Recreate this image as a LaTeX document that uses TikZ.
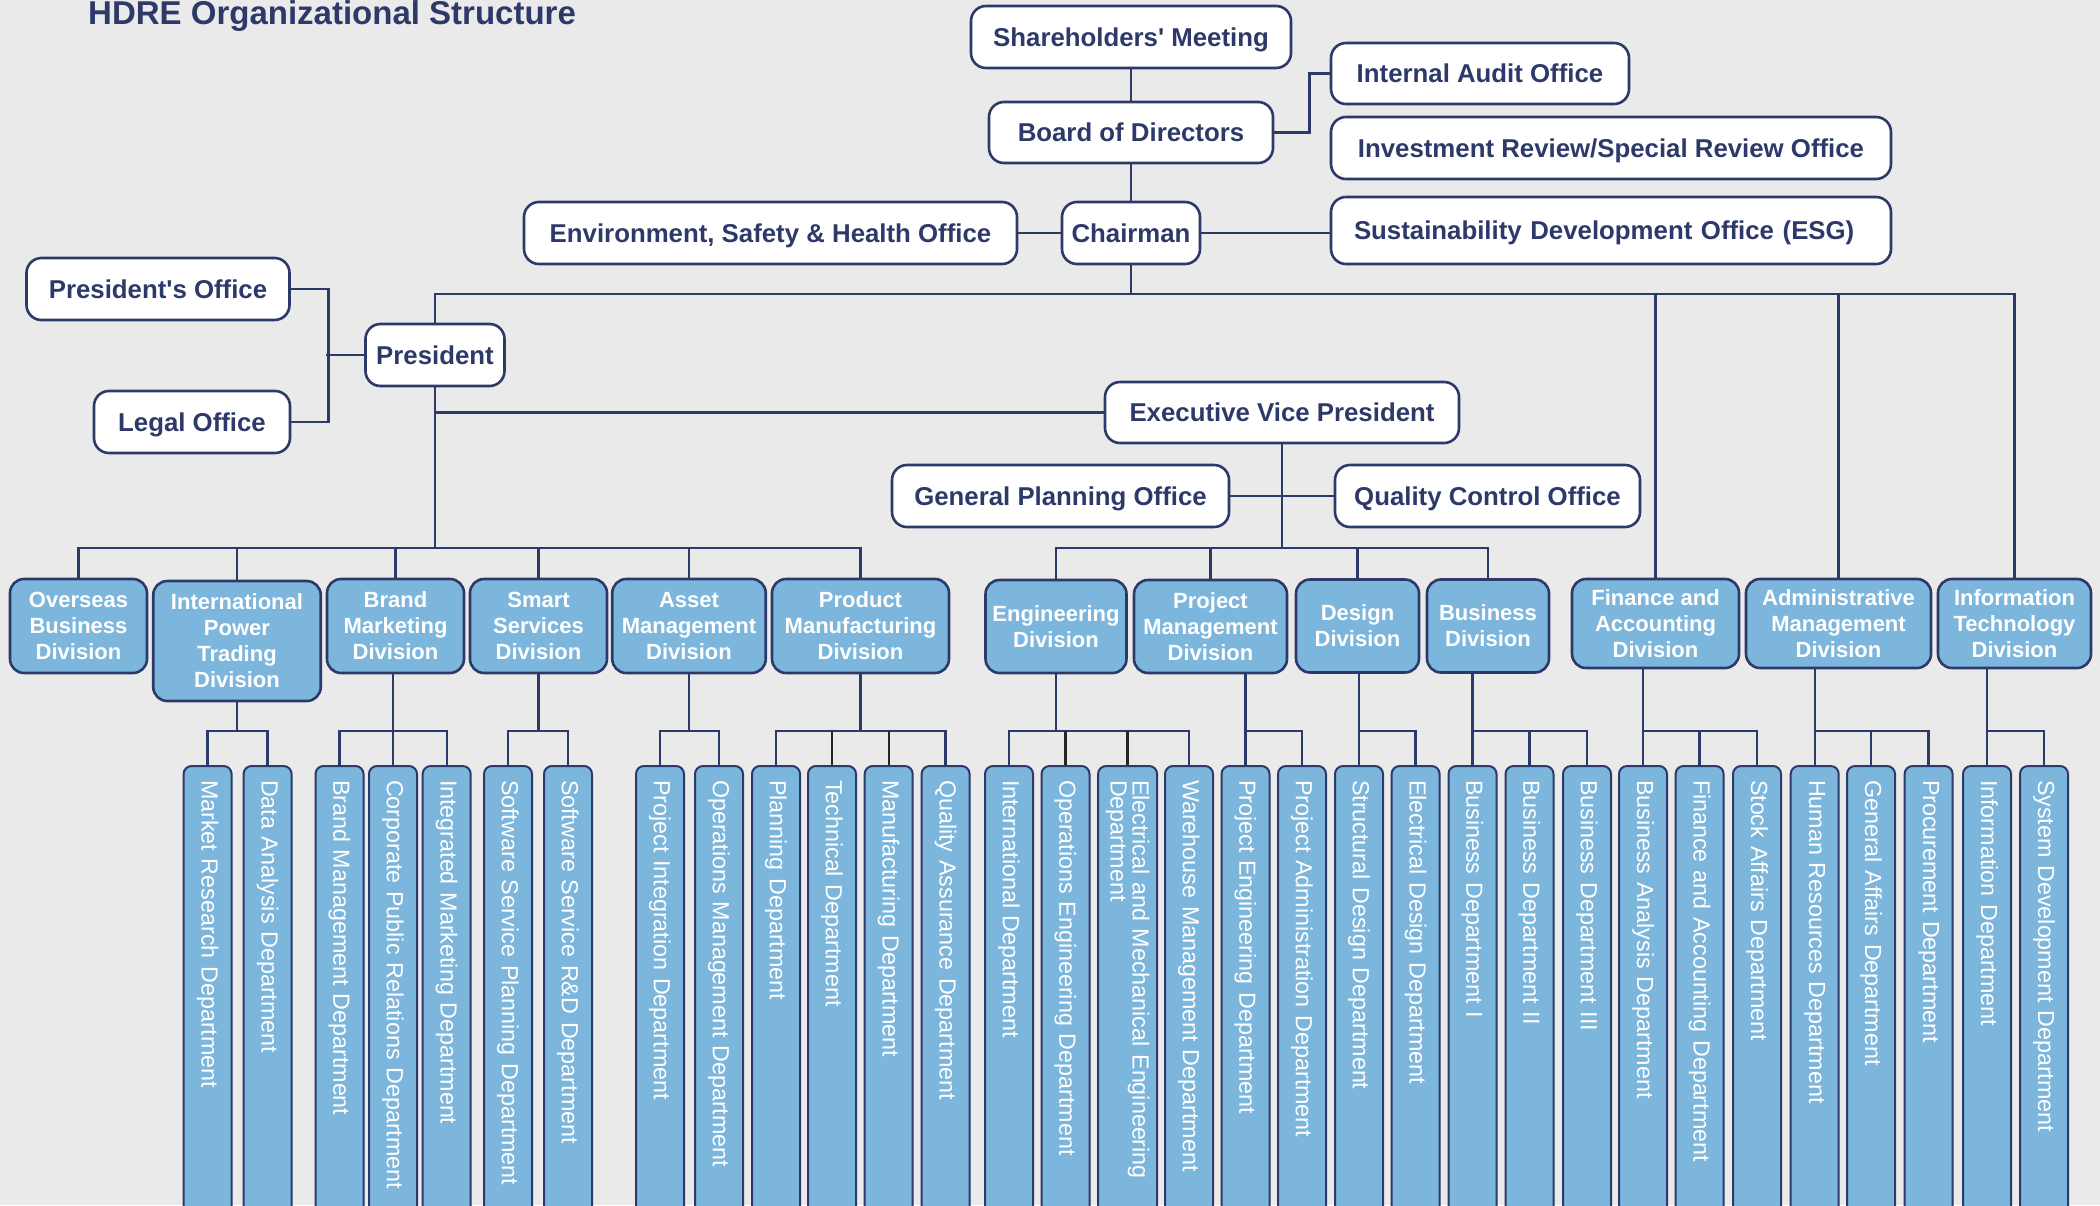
\documentclass[tikz,border=0pt]{standalone}
\usepackage{fontspec}
\setmainfont{Liberation Sans}
\usetikzlibrary{calc}
\definecolor{navy}{RGB}{45,57,105}
\definecolor{lblue}{RGB}{124,182,220}
\definecolor{bgc}{RGB}{234,234,234}
\begin{document}
\begin{tikzpicture}[x=1pt,y=-1pt,
  conn/.style={draw=navy,line width=2.4pt},
  darkconn/.style={draw=black!85,line width=2.4pt},
  topbox/.style={draw=navy,line width=2.6pt,fill=white,rounded corners=15pt,
    text=navy,inner sep=0pt,text height=18.6pt,text depth=0pt,
    font=\bfseries\fontsize{25.8}{30}\selectfont},
  divbox/.style={draw=navy,line width=2.6pt,fill=lblue,rounded corners=14pt,
    text=white,inner sep=0pt,align=center,
    font=\bfseries\fontsize{22}{26}\selectfont},
  deptbox/.style={draw=navy,line width=2pt,fill=lblue,rounded corners=8pt,
    rotate=-90,anchor=west,minimum height=48pt,text width=432pt,
    inner xsep=14pt,inner ysep=0pt,align=left,text=white,
    font=\fontsize{23.3}{20}\selectfont}]

% canvas
\useasboundingbox (0,0) rectangle (2100,1205);
\fill[bgc] (0,0) rectangle (2100,1205);
\clip (0,0) rectangle (2100,1205);

% title
\node[anchor=base west,inner sep=0pt,text=navy,
  font=\bfseries\fontsize{33}{36}\selectfont] (title) at (88,24)
  {HDRE Organizational Structure};

% governance boxes
\node[topbox,minimum width=320pt,minimum height=62pt] (sm)    at (1131,37)    {Shareholders\textquotesingle{} Meeting};
\node[topbox,minimum width=284pt,minimum height=61pt] (bod)   at (1131,132.5) {Board of Directors};
\node[topbox,minimum width=138pt,minimum height=62pt] (chair) at (1131,233)   {Chairman};
\node[topbox,minimum width=493pt,minimum height=62pt] (env)   at (770.5,233)  {Environment, Safety \& Health Office};
\node[topbox,minimum width=298pt,minimum height=61pt] (ia)    at (1480,73.5)  {Internal Audit Office};
\node[topbox,minimum width=560pt,minimum height=62pt] (inv)   at (1611,148)   {Investment Review/Special Review Office};
\node[topbox,minimum height=67pt,text width=514pt,inner xsep=23pt,align=left] (sus) at (1611,230.5) {Sustainability Development Office (ESG)};
\node[topbox,minimum width=263pt,minimum height=62pt] (po)    at (158,289)    {President\textquotesingle s Office};
\node[topbox,minimum width=196pt,minimum height=62pt] (legal) at (192,422)    {Legal Office};
\node[topbox,minimum width=139pt,minimum height=62pt] (pres)  at (435,355)    {President};
\node[topbox,minimum width=354pt,minimum height=61pt] (evp)   at (1282,412.5) {Executive Vice President};
\node[topbox,minimum width=337pt,minimum height=62pt] (gpo)   at (1060.5,496) {General Planning Office};
\node[topbox,minimum width=305pt,minimum height=62pt] (qc)    at (1487.5,496) {Quality Control Office};

% divisions
\node[divbox,minimum width=137pt,minimum height=94pt]   (ov)  at (78.5,626)    {Overseas\\Business\\Division};
\node[divbox,minimum width=167.5pt,minimum height=120pt](ipt) at (237,641)     {International\\Power\\Trading\\Division};
\node[divbox,minimum width=137pt,minimum height=94pt]   (bm)  at (395.5,626)   {Brand\\Marketing\\Division};
\node[divbox,minimum width=137pt,minimum height=94pt]   (ss)  at (538.5,626)   {Smart\\Services\\Division};
\node[divbox,minimum width=153.5pt,minimum height=94pt] (am)  at (689,626)     {Asset\\Management\\Division};
\node[divbox,minimum width=177pt,minimum height=94pt]   (pmf) at (860.5,626)   {Product\\Manufacturing\\Division};
\node[divbox,minimum width=141pt,minimum height=93pt]   (eng) at (1056,626.5)  {Engineering\\Division};
\node[divbox,minimum width=153pt,minimum height=93pt]   (pm)  at (1210.5,626.5){Project\\Management\\Division};
\node[divbox,minimum width=123pt,minimum height=93pt]   (des) at (1357.5,626)  {Design\\Division};
\node[divbox,minimum width=122pt,minimum height=93pt]   (bus) at (1488,626)    {Business\\Division};
\node[divbox,minimum width=167pt,minimum height=89pt]   (fin) at (1655.5,623.5){Finance and\\Accounting\\Division};
\node[divbox,minimum width=185pt,minimum height=89pt]   (adm) at (1838.5,623.5){Administrative\\Management\\Division};
\node[divbox,minimum width=153pt,minimum height=89pt]   (it)  at (2014.5,623.5){Information\\Technology\\Division};

% departments
\node[deptbox] (mr)   at (207.6,765)  {Market Research Department};
\node[deptbox] (da)   at (267.6,765)  {Data Analysis Department};
\node[deptbox] (bmd)  at (339.5,765)  {Brand Management Department};
\node[deptbox] (cpr)  at (393,765)    {Corporate Public Relations Department};
\node[deptbox] (imd)  at (446.7,765)  {Integrated Marketing Department};
\node[deptbox] (ssp)  at (508,765)    {Software Service Planning Department};
\node[deptbox] (srd)  at (568,765)    {Software Service R\&D Department};
\node[deptbox] (pid)  at (660,765)    {Project Integration Department};
\node[deptbox] (omd)  at (719,765)    {Operations Management Department};
\node[deptbox] (pld)  at (776,765)    {Planning Department};
\node[deptbox] (ted)  at (832,765)    {Technical Department};
\node[deptbox] (mfd)  at (888.7,765)  {Manufacturing Department};
\node[deptbox] (qad)  at (945.6,765)  {Quality Assurance Department};
\node[deptbox] (intd) at (1009,765)   {International Department};
\node[deptbox] (oed)  at (1065.5,765) {Operations Engineering Department};
\node[deptbox,minimum height=59pt] (emd) at (1127.6,765) {Electrical and Mechanical Engineering\\Department};
\node[deptbox] (whd)  at (1189,765)   {Warehouse Management Department};
\node[deptbox] (ped)  at (1245.5,765) {Project Engineering Department};
\node[deptbox] (pad)  at (1302,765)   {Project Administration Department};
\node[deptbox] (sdd)  at (1359,765)   {Structural Design Department};
\node[deptbox] (edd)  at (1415.6,765) {Electrical Design Department};
\node[deptbox] (bd1)  at (1472.5,765) {Business Department I};
\node[deptbox] (bd2)  at (1529.5,765) {Business Department II};
\node[deptbox] (bd3)  at (1587,765)   {Business Department III};
\node[deptbox] (bad)  at (1643,765)   {Business Analysis Department};
\node[deptbox] (fad)  at (1699.6,765) {Finance and Accounting Department};
\node[deptbox] (sad)  at (1757,765)   {Stock Affairs Department};
\node[deptbox] (hrd)  at (1814.7,765) {Human Resources Department};
\node[deptbox] (gad)  at (1871,765)   {General Affairs Department};
\node[deptbox] (prd)  at (1928.6,765) {Procurement Department};
\node[deptbox] (ifd)  at (1987,765)   {Information Department};
\node[deptbox] (sdv)  at (2044,765)   {System Development Department};

% bus levels
\coordinate (cbus) at (0,294);
\coordinate (pbus) at (0,548);
\coordinate (dbus) at (0,731);

% governance connectors
\draw[conn] (sm.south) -- (bod.north);
\draw[conn] (bod.south) -- (chair.north);
\draw[conn] (bod.east) -- ++(35,0) |- (ia.west);
\draw[conn] (env.east) -- (chair.west);
\draw[conn] (chair.east) -- (chair.east -| sus.west);
\draw[conn] (chair.south) -- (chair.south |- cbus);
\draw[conn] (pres.north) |- (it.north |- cbus) -- (it.north);
\draw[conn] (fin.north |- cbus) -- (fin.north);
\draw[conn] (adm.north |- cbus) -- (adm.north);

% president connectors
\draw[conn] (po.east) -- ++(37.5,0) |- (legal.east);
\draw[conn] (pres.west) -- ++(-38.5,0);
\draw[conn] (pres.south) -- (pres.south |- pbus);
\draw[conn] (pres.south |- evp.west) -- (evp.west);
\draw[conn] (ov.north) |- (pmf.north |- pbus) -- (pmf.north);
\foreach \d in {ipt,bm,ss,am} \draw[conn] (\d.north |- pbus) -- (\d.north);

% executive vice president connectors
\draw[conn] (evp.south) -- (evp.south |- pbus);
\draw[conn] (gpo.east) -- (qc.west);
\draw[conn] (eng.north) |- (bus.north |- pbus) -- (bus.north);
\foreach \d in {pm,des} \draw[conn] (\d.north |- pbus) -- (\d.north);

% division-to-department connectors
\draw[conn] (ipt.south) -- (ipt.south |- dbus);
\draw[conn] (mr.west) |- (da.west |- dbus) -- (da.west);

\draw[conn] (cpr.west |- bm.south) -- (cpr.west);
\draw[conn] (bmd.west) |- (imd.west |- dbus) -- (imd.west);

\draw[conn] (ss.south) -- (ss.south |- dbus);
\draw[conn] (ssp.west) |- (srd.west |- dbus) -- (srd.west);

\draw[conn] (am.south) -- (am.south |- dbus);
\draw[conn] (pid.west) |- (omd.west |- dbus) -- (omd.west);

\draw[conn] (pmf.south) -- (pmf.south |- dbus);
\draw[conn] (pld.west) |- (qad.west |- dbus) -- (qad.west);
\foreach \d in {ted,mfd} \draw[darkconn] (\d.west |- dbus) -- (\d.west);

\draw[conn] (eng.south) -- (eng.south |- dbus);
\draw[conn] (intd.west) |- (whd.west |- dbus) -- (whd.west);
\foreach \d in {oed,emd} \draw[darkconn] (\d.west |- dbus) -- (\d.west);

\draw[conn] (ped.west |- pm.south) -- (ped.west);
\draw[conn] (ped.west |- dbus) -- (pad.west |- dbus) -- (pad.west);

\draw[conn] (sdd.west |- des.south) -- (sdd.west);
\draw[conn] (sdd.west |- dbus) -- (edd.west |- dbus) -- (edd.west);

\draw[conn] (bd1.west |- bus.south) -- (bd1.west);
\draw[conn] (bd1.west |- dbus) -- (bd3.west |- dbus) -- (bd3.west);
\draw[conn] (bd2.west |- dbus) -- (bd2.west);

\draw[conn] (bad.west |- fin.south) -- (bad.west);
\draw[conn] (bad.west |- dbus) -- (sad.west |- dbus) -- (sad.west);
\draw[conn] (fad.west |- dbus) -- (fad.west);

\draw[conn] (hrd.west |- adm.south) -- (hrd.west);
\draw[conn] (hrd.west |- dbus) -- (prd.west |- dbus) -- (prd.west);
\draw[conn] (gad.west |- dbus) -- (gad.west);

\draw[conn] (ifd.west |- it.south) -- (ifd.west);
\draw[conn] (ifd.west |- dbus) -- (sdv.west |- dbus) -- (sdv.west);
\end{tikzpicture}
\end{document}
